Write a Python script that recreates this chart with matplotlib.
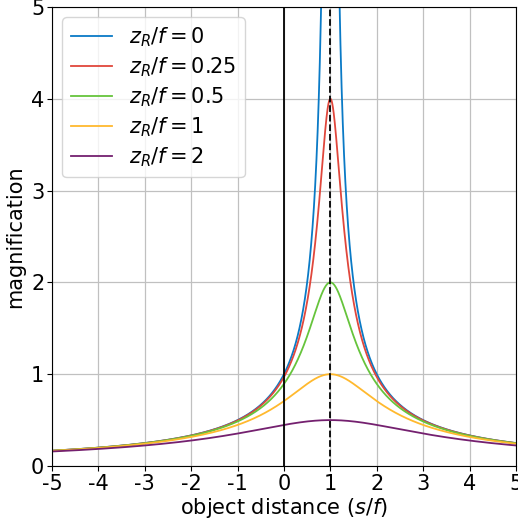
import numpy as np
import matplotlib.pyplot as plt

# Rayleigh range over focal length for each curve
zr_values = [0, 0.25, 0.5, 1, 2]
zr_labels = ['0', '0.25', '0.5', '1', '2']
colors = ['#0a7ac6', '#e0473c', '#66c43c', '#ffb92e', '#74206f']

xticks = [-5, -4, -3, -2, -1, 0, 1, 2, 3, 4, 5]
yticks = [0, 1, 2, 3, 4, 5]

plt.rcParams['font.size'] = 15

s = np.linspace(-5, 5, 4001)

fig = plt.figure(figsize=(5.18, 5.24), dpi=100)
ax = fig.add_axes([0.1004, 0.1107, 0.8956, 0.876])

for zr, lab, c in zip(zr_values, zr_labels, colors):
    # Gaussian beam lens magnification
    with np.errstate(divide='ignore'):
        m = 1.0 / np.sqrt((1 - s)**2 + zr**2)
    ax.plot(s, m, color=c, lw=1.3, label=r'$z_R/f = %s$' % lab)

ax.axvline(0, color='black', lw=1.3)
ax.axvline(1, color='black', lw=1.3, ls='--')

ax.set_xlim(-5, 5)
ax.set_ylim(0, 5)
ax.set_xticks(xticks)
ax.set_xticklabels([str(t) for t in xticks])
ax.set_yticks(yticks)
ax.grid(True, color='#c0c0c0', lw=0.9)
ax.set_axisbelow(True)
ax.tick_params(pad=2)
ax.set_xlabel(r'object distance ($s/f$)', labelpad=2)
ax.set_ylabel('magnification', labelpad=4)
ax.legend(loc='upper left', fontsize=15, handlelength=2.0, labelspacing=0.3,
          borderaxespad=0.5)

fig.savefig('out.png', dpi=100)
